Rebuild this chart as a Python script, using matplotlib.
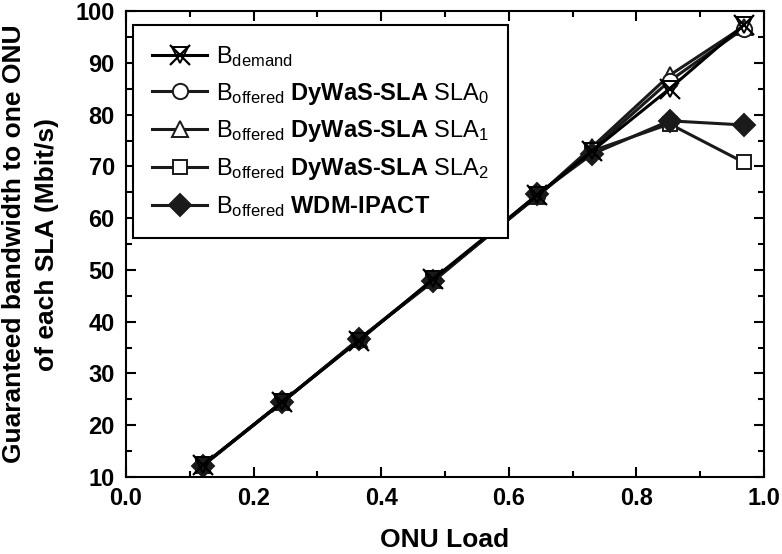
"""Guaranteed bandwidth per SLA vs ONU load (DyWaS-SLA vs WDM-IPACT)."""

import matplotlib

matplotlib.use("Agg")
import matplotlib.pyplot as plt  # noqa: E402
from matplotlib.legend_handler import HandlerTuple  # noqa: E402
from matplotlib.ticker import MultipleLocator  # noqa: E402

onu_load = [0.121, 0.245, 0.365, 0.482, 0.645, 0.731, 0.852, 0.968]
b_demand = [12.3, 24.5, 36.3, 48.3, 64.5, 73.0, 85.0, 97.3]
b_sla0 = [12.3, 24.5, 36.5, 48.0, 64.3, 73.3, 86.5, 96.6]
b_sla1 = [12.3, 24.5, 36.6, 48.1, 64.3, 73.8, 87.6, 97.0]
b_sla2 = [12.3, 24.5, 36.5, 48.0, 64.3, 73.0, 78.2, 70.8]
b_wdm = [12.2, 24.4, 36.6, 47.8, 64.6, 72.4, 78.8, 78.0]

labels = [
    r"$\mathrm{B_{demand}}$",
    r"$\mathrm{B_{offered}}$ DyWaS-SLA $\mathrm{SLA_0}$",
    r"$\mathrm{B_{offered}}$ DyWaS-SLA $\mathrm{SLA_1}$",
    r"$\mathrm{B_{offered}}$ DyWaS-SLA $\mathrm{SLA_2}$",
    r"$\mathrm{B_{offered}}$ WDM-IPACT",
]

plt.rcParams["font.family"] = ["Liberation Sans", "DejaVu Sans"]
plt.rcParams["font.weight"] = "bold"
plt.rcParams["mathtext.fontset"] = "custom"
plt.rcParams["mathtext.rm"] = "Liberation Sans:weight=normal"
plt.rcParams["mathtext.it"] = "Liberation Sans:italic"
plt.rcParams["mathtext.bf"] = "Liberation Sans:bold"


def main() -> None:
    fig = plt.figure(figsize=(7.82, 5.54), dpi=100)
    ax = fig.add_axes([0.161, 0.139, 0.816, 0.841])

    lw = 2.2
    ink = "#1a1a1a"
    common = dict(color=ink, lw=lw, mew=1.4)
    h_sla2, = ax.plot(onu_load, b_sla2, marker="s", ms=10, mfc="white", mec=ink, **common)
    h_sla1, = ax.plot(onu_load, b_sla1, marker="^", ms=12, mfc="white", mec=ink, **common)
    h_sla0, = ax.plot(onu_load, b_sla0, marker="o", ms=11, mfc="white", mec=ink, **common)
    h_wdm, = ax.plot(onu_load, b_wdm, marker="D", ms=11, mfc=ink, mec=ink, **common)
    h_dem_line, = ax.plot(onu_load, b_demand, marker="x", ms=14, mec="black", color="black", lw=lw, mew=1.6)
    h_dem_tri, = ax.plot(onu_load, b_demand, ls="none", marker="v", ms=11, mfc="none", mec="black", mew=1.4)

    ax.set_xlim(0.0, 1.0)
    ax.set_ylim(10, 100)
    ax.xaxis.set_major_locator(MultipleLocator(0.2))
    ax.xaxis.set_minor_locator(MultipleLocator(0.1))
    ax.yaxis.set_major_locator(MultipleLocator(10))
    ax.yaxis.set_minor_locator(MultipleLocator(5))
    ax.xaxis.set_major_formatter(lambda v, _: f"{v:.1f}")
    ax.tick_params(which="both", direction="in", top=True, right=True, width=1.5)
    ax.tick_params(which="major", length=7, labelsize=17)
    ax.tick_params(which="minor", length=4)
    ax.tick_params(axis="x", pad=7.5)
    ax.tick_params(axis="y", pad=8)
    for s in ax.spines.values():
        s.set_linewidth(1.5)

    ax.set_xlabel("ONU Load", fontsize=19, fontweight="bold", labelpad=12.5)
    ax.set_ylabel("Guaranteed bandwidth to one ONU\nof each SLA (Mbit/s)",
                  fontsize=19, fontweight="bold", labelpad=12, linespacing=1.45)

    leg = ax.legend(
        [(h_dem_line, h_dem_tri), h_sla0, h_sla1, h_sla2, h_wdm],
        labels,
        handler_map={tuple: HandlerTuple(ndivide=1, pad=0)},
        loc="upper left",
        bbox_to_anchor=(0.011, 0.97),
        borderaxespad=0,
        frameon=True,
        fancybox=False,
        prop={"size": 17, "weight": "bold"},
        handlelength=2.35,
        handletextpad=0.35,
        labelspacing=0.5,
        borderpad=0.8,
    )
    leg.get_frame().set_edgecolor("black")
    leg.get_frame().set_linewidth(1.5)
    leg.get_frame().set_alpha(1)

    fig.savefig("out.png", dpi=100)


if __name__ == "__main__":
    main()
